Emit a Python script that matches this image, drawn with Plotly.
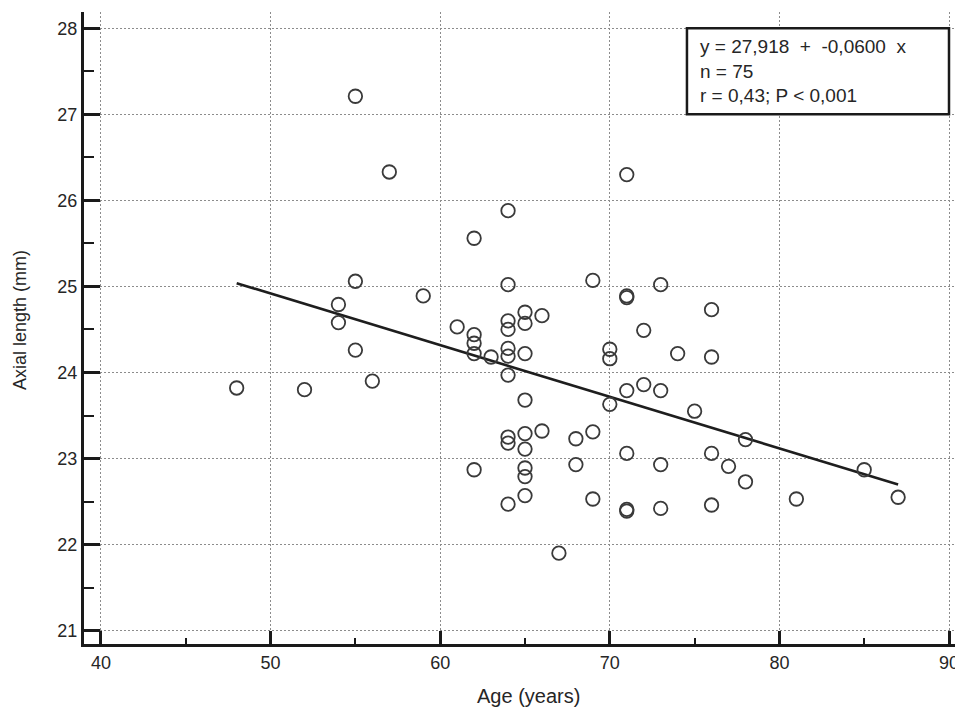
import plotly.graph_objects as go

# ---- data ----
age = [48, 52, 54, 54, 55, 55, 55, 56, 57, 59,
       61, 62, 62, 62, 62, 62, 63, 64, 64, 64,
       64, 64, 64, 64, 64, 64, 64, 65, 65, 65,
       65, 65, 65, 65, 65, 65, 66, 66, 67, 68,
       68, 69, 69, 69, 70, 70, 70, 71, 71, 71,
       71, 71, 71, 71, 72, 72, 73, 73, 73, 73,
       74, 75, 76, 76, 76, 76, 77, 78, 78, 81,
       85, 87]
axial = [23.82, 23.80, 24.79, 24.58, 27.21, 25.06, 24.26, 23.90, 26.33, 24.89,
         24.53, 25.56, 24.44, 24.34, 24.22, 22.87, 24.18, 25.88, 25.02, 24.60,
         24.50, 24.28, 24.19, 23.97, 23.25, 23.18, 22.47, 24.70, 24.57, 24.22,
         23.68, 23.29, 23.11, 22.89, 22.79, 22.57, 24.66, 23.32, 21.90, 23.23,
         22.93, 25.07, 23.31, 22.53, 24.27, 24.16, 23.63, 26.30, 24.89, 24.87,
         23.79, 23.06, 22.41, 22.39, 24.49, 23.86, 25.02, 23.79, 22.93, 22.42,
         24.22, 23.55, 24.73, 24.18, 23.06, 22.46, 22.91, 23.22, 22.73, 22.53,
         22.87, 22.55]

intercept = 27.918
slope = -0.0600
stats_lines = ["y = 27,918\u00a0 + \u00a0-0,0600\u00a0 x", "n = 75", "r = 0,43; P < 0,001"]

x_ticks = [40, 50, 60, 70, 80, 90]
y_ticks = [21, 22, 23, 24, 25, 26, 27, 28]
x_title = "Age (years)"
y_title = "Axial length (mm)"

FONT = "Liberation Sans, Arial, sans-serif"
TXT = "#262626"

fit_x = [min(age), max(age)]
fit_y = [intercept + slope * v for v in fit_x]

fig = go.Figure()
fig.add_trace(go.Scatter(x=fit_x, y=fit_y, mode="lines",
                         line=dict(color="#1e1e1e", width=2.6),
                         showlegend=False, hoverinfo="skip"))
fig.add_trace(go.Scatter(x=age, y=axial, mode="markers",
                         marker=dict(symbol="circle-open", size=13.5,
                                     color="#3a3a3a", line=dict(width=1.8, color="#3a3a3a")),
                         showlegend=False))

# stats box
fig.add_shape(type="rect", xref="x", yref="y", x0=74.55, x1=90, y0=27.0, y1=28.0,
              line=dict(color="#1a1a1a", width=2.5), fillcolor="white", layer="above")
fig.add_annotation(xref="x", yref="y", x=75.2, y=27.5, xanchor="left", yanchor="middle",
                   text="<br>".join(stats_lines), showarrow=False, align="left",
                   font=dict(family=FONT, size=19, color=TXT))

# axis titles
fig.add_annotation(xref="paper", yref="paper", x=(528 - 84) / 871, y=0, yshift=-52,
                   xanchor="center", yanchor="middle", text=x_title, showarrow=False,
                   font=dict(family=FONT, size=20, color=TXT))
fig.add_annotation(xref="paper", yref="paper", x=0, xshift=-64, y=(644 - 320) / 632,
                   xanchor="center", yanchor="middle", text=y_title, textangle=-90,
                   showarrow=False, font=dict(family=FONT, size=18, color=TXT))

axis_common = dict(
    showline=True, linecolor="#1a1a1a", linewidth=3, mirror=False,
    ticks="inside", tickcolor="#1a1a1a", tickwidth=2.5,
    showgrid=True, gridcolor="#8c8c8c", gridwidth=1, griddash="2px,2px",
    zeroline=False, tickfont=dict(family=FONT, size=18, color=TXT),
    ticklabeloverflow="allow",
)

fig.update_xaxes(axis_common, range=[38.998, 90.354], tickvals=x_ticks, ticklen=13,
                 minor=dict(ticks="inside", dtick=5, tick0=40, ticklen=6, tickwidth=1.5,
                            tickcolor="#1a1a1a", showgrid=False))
fig.update_yaxes(axis_common, range=[20.845, 28.189], tickvals=y_ticks, ticklen=16,
                 minor=dict(ticks="inside", dtick=0.5, tick0=21, ticklen=10, tickwidth=1.5,
                            tickcolor="#1a1a1a", showgrid=False))

fig.update_layout(width=955, height=708, margin=dict(l=84, r=0, t=12, b=64, autoexpand=False),
                  plot_bgcolor="white", paper_bgcolor="white")

fig.write_html("out.html")
